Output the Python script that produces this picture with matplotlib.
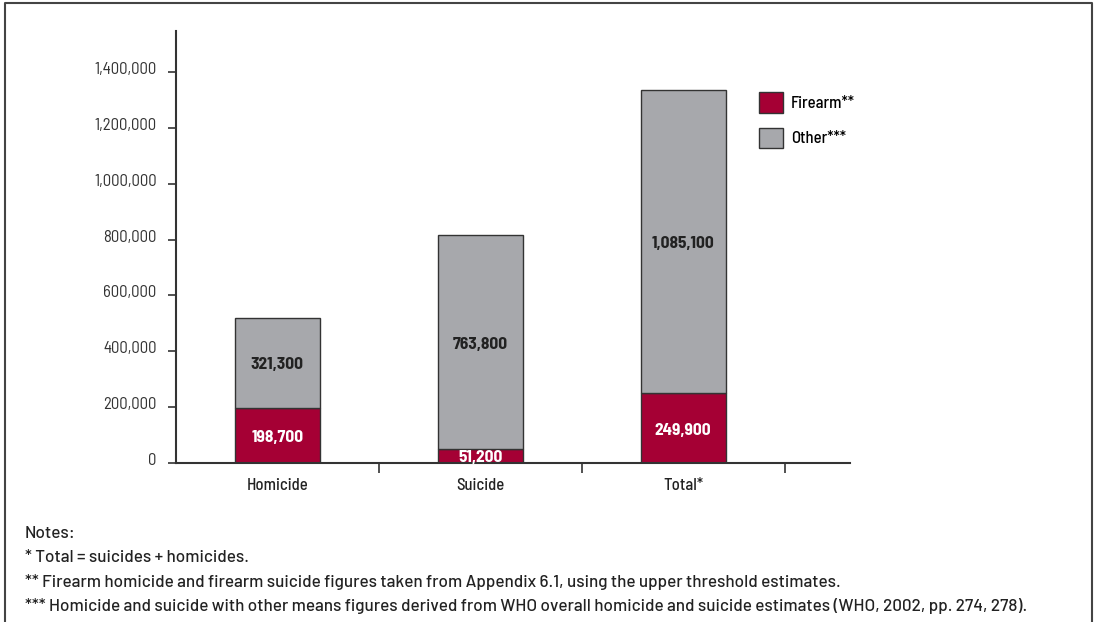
import numpy as np
import matplotlib.pyplot as plt
import matplotlib.transforms as mtransforms
from matplotlib.patches import Patch
from matplotlib.ticker import FuncFormatter

categories = ['Homicide', 'Suicide', 'Total*']
firearm = [198700, 51200, 249900]
other = [321300, 763800, 1085100]
yticks = [0, 200000, 400000, 600000, 800000, 1000000, 1200000, 1400000]
notes = [
    'Notes:',
    '* Total = suicides + homicides.',
    '** Firearm homicide and firearm suicide figures taken from Appendix 6.1, using the upper threshold estimates.',
    '*** Homicide and suicide with other means figures derived from WHO overall homicide and suicide estimates (WHO, 2002, pp. 274, 278).',
]

plt.rcParams['font.family'] = ['Barlow Semi Condensed', 'DejaVu Sans']

red = '#a50034'
grey = '#a7a8ac'
edge = '#333333'

fig = plt.figure(figsize=(10.96, 6.22), dpi=100)
ax = fig.add_axes([176 / 1096, 1 - 463 / 622, (850 - 176) / 1096, (463 - 31) / 622])

x = np.arange(len(categories))
ax.bar(x, firearm, width=0.42, color=red, edgecolor=edge, linewidth=1)
ax.bar(x, other, width=0.42, bottom=firearm, color=grey, edgecolor=edge, linewidth=1)

# value labels in the middle of each segment, nudged down a little
drop = mtransforms.ScaledTranslation(0, -2 / 100, fig.dpi_scale_trans)
for i in range(len(categories)):
    ax.text(x[i], firearm[i] / 2, f'{firearm[i]:,}', ha='center', va='center',
            color='white', fontsize=12.5, fontweight='bold', transform=ax.transData + drop)
    ax.text(x[i], firearm[i] + other[i] / 2, f'{other[i]:,}', ha='center', va='center',
            color='#222222', fontsize=12.5, fontweight='bold', transform=ax.transData + drop)

ax.set_xlim(-0.5, (850 - 277) / 203)
ax.set_ylim(0, 1547000)

ax.set_yticks(yticks)
ax.yaxis.set_major_formatter(FuncFormatter(lambda v, p: f'{int(v):,}'))
ax.tick_params(axis='y', length=6, width=1.2, color=edge, pad=8, labelsize=12, labelcolor='#333333')
lift = mtransforms.ScaledTranslation(0, 4 / 100, fig.dpi_scale_trans)
for t in ax.get_yticklabels():
    t.set_transform(t.get_transform() + lift)

# category ticks sit between bars, labels sit under the bars
ax.set_xticks([0.5, 1.5, 2.5])
ax.set_xticklabels([])
ax.tick_params(axis='x', length=7, width=1.2, color=edge)
for i, c in enumerate(categories):
    ax.text(x[i], -0.052, c, transform=ax.get_xaxis_transform(), ha='center', va='center',
            fontsize=12, color='#222222', fontweight='medium')

for s in ['top', 'right']:
    ax.spines[s].set_visible(False)
for s in ['left', 'bottom']:
    ax.spines[s].set_color(edge)
    ax.spines[s].set_linewidth(1.5)

handles = [Patch(facecolor=red, edgecolor=edge, label='Firearm**'),
           Patch(facecolor=grey, edgecolor=edge, label='Other***')]
fig.legend(handles=handles, loc='upper left', bbox_to_anchor=(751 / 1096, 1 - 84 / 622),
           frameon=False, prop={'size': 12, 'weight': 'medium'}, handlelength=1.4, handleheight=1.5,
           handletextpad=0.5, labelspacing=0.9, borderpad=0)

# notes under the chart
for k, line in enumerate(notes):
    fig.text(25 / 1096, 1 - (533 + 24.5 * k) / 622, line, ha='left', va='center',
             fontsize=12.3, color='#222222', fontweight='medium', family=['Barlow', 'DejaVu Sans'])

# frame round the figure, open at the bottom
fx0, fx1, fy = 5 / 1096, 1092 / 1096, 1 - 3 / 622
fig.add_artist(plt.Line2D([fx0, fx0, fx1, fx1], [0, fy, fy, 0], transform=fig.transFigure,
                          color='#444444', linewidth=1.5))

fig.savefig('out.png', dpi=100)
